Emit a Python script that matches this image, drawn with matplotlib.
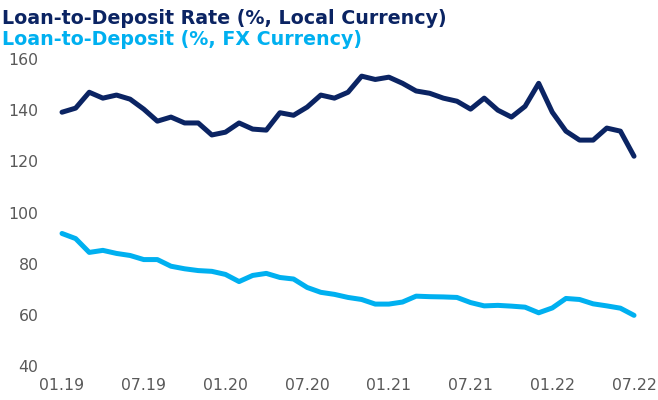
import numpy as np
import matplotlib
matplotlib.use('Agg')
import matplotlib.pyplot as plt

# monthly data, 01.19 .. 07.22
months = ['01.19', '02.19', '03.19', '04.19', '05.19', '06.19', '07.19', '08.19',
          '09.19', '10.19', '11.19', '12.19', '01.20', '02.20', '03.20', '04.20',
          '05.20', '06.20', '07.20', '08.20', '09.20', '10.20', '11.20', '12.20',
          '01.21', '02.21', '03.21', '04.21', '05.21', '06.21', '07.21', '08.21',
          '09.21', '10.21', '11.21', '12.21', '01.22', '02.22', '03.22', '04.22',
          '05.22', '06.22', '07.22']

ldr_local = [139.2, 140.8, 147.0, 144.7, 145.9, 144.3, 140.4, 135.7, 137.3, 135.0,
             135.0, 130.3, 131.4, 135.0, 132.6, 132.2, 139.0, 138.0, 141.2, 145.9,
             144.7, 147.0, 153.3, 152.0, 152.9, 150.5, 147.5, 146.6, 144.7, 143.5,
             140.4, 144.7, 140.0, 137.3, 141.5, 150.5, 139.2, 131.8, 128.3, 128.3,
             133.0, 131.8, 122.0]

ldr_fx = [91.8, 89.8, 84.4, 85.2, 84.0, 83.2, 81.6, 81.6, 79.0, 78.0,
          77.3, 77.0, 75.8, 73.0, 75.4, 76.2, 74.6, 74.0, 70.7, 68.8,
          68.0, 66.8, 66.0, 64.2, 64.2, 65.0, 67.3, 67.1, 67.0, 66.8,
          64.8, 63.5, 63.7, 63.4, 63.0, 60.8, 62.7, 66.4, 66.0, 64.3,
          63.5, 62.6, 59.8]

y_ticks = [40, 60, 80, 100, 120, 140, 160]

dark = '#0B2463'
light = '#00B0F0'
grey = '#595959'

fig = plt.figure(figsize=(6.58, 4.0), dpi=100)
ax = fig.add_axes([0.0839, 0.085, 0.890, 0.7675])

x = np.arange(len(months))
ax.plot(x, ldr_local, color=dark, linewidth=3.6, solid_capstyle='round', solid_joinstyle='round')
ax.plot(x, ldr_fx, color=light, linewidth=3.6, solid_capstyle='round', solid_joinstyle='round')

ax.set_xlim(-0.5, len(months) - 0.5)
ax.set_ylim(40, 160)
ax.set_yticks(y_ticks)
ax.set_xticks(x[::6])
ax.set_xticklabels(months[::6])

for s in ax.spines.values():
    s.set_visible(False)
ax.tick_params(axis='both', length=0, labelsize=11.3, labelcolor=grey)
ax.tick_params(axis='y', pad=12)
ax.tick_params(axis='x', pad=9)

fig.text(0.003, 0.94, 'Loan-to-Deposit Rate (%, Local Currency)', color=dark,
         fontsize=13.7, fontweight='bold', va='baseline')
fig.text(0.003, 0.887, 'Loan-to-Deposit (%, FX Currency)', color=light,
         fontsize=13.7, fontweight='bold', va='baseline')

fig.savefig('out.png', dpi=100)
